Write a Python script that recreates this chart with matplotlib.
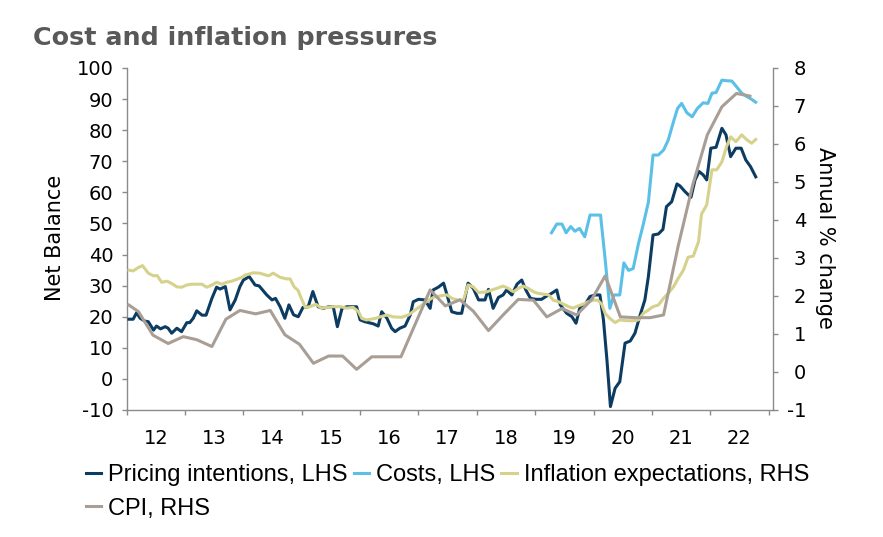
import matplotlib
matplotlib.use("Agg")
import matplotlib.pyplot as plt
from matplotlib.ticker import FixedLocator, NullFormatter, FixedFormatter

plt.rcParams["axes.unicode_minus"] = False

# Pricing intentions, LHS (net balance)
pricing_t = [2012.04, 2012.11, 2012.17, 2012.23, 2012.31, 2012.37, 2012.46, 2012.51, 2012.58, 2012.66,
             2012.71, 2012.77, 2012.86, 2012.94, 2013.03, 2013.08, 2013.14, 2013.20, 2013.29, 2013.36,
             2013.46, 2013.54, 2013.60, 2013.69, 2013.77, 2013.86, 2013.94, 2014.00, 2014.10, 2014.20,
             2014.27, 2014.40, 2014.49, 2014.55, 2014.63, 2014.71, 2014.78, 2014.86, 2014.94, 2015.02,
             2015.11, 2015.19, 2015.28, 2015.37, 2015.46, 2015.54, 2015.61, 2015.69, 2015.77, 2015.86,
             2015.94, 2016.00, 2016.08, 2016.23, 2016.31, 2016.37, 2016.46, 2016.54, 2016.60, 2016.68,
             2016.77, 2016.86, 2016.91, 2017.00, 2017.11, 2017.20, 2017.25, 2017.34, 2017.43, 2017.49,
             2017.57, 2017.66, 2017.74, 2017.85, 2017.94, 2018.03, 2018.14, 2018.20, 2018.28, 2018.37,
             2018.45, 2018.51, 2018.60, 2018.69, 2018.77, 2018.84, 2018.92, 2019.01, 2019.11, 2019.20,
             2019.28, 2019.37, 2019.43, 2019.54, 2019.63, 2019.70, 2019.77, 2019.85, 2019.94, 2020.03,
             2020.11, 2020.17, 2020.23, 2020.29, 2020.37, 2020.45, 2020.54, 2020.63, 2020.71, 2020.80,
             2020.88, 2020.94, 2021.02, 2021.11, 2021.19, 2021.25, 2021.34, 2021.43, 2021.48, 2021.57,
             2021.67, 2021.74, 2021.81, 2021.88, 2021.94, 2022.01, 2022.10, 2022.20, 2022.27, 2022.35,
             2022.44, 2022.53, 2022.61, 2022.69, 2022.78]
pricing = [19.2, 19.2, 21.3, 19.5, 18.6, 18.4, 15.7, 17.0, 16.1, 16.8,
           16.3, 14.7, 16.3, 15.2, 18.1, 18.1, 19.5, 21.9, 20.5, 20.5,
           25.9, 29.5, 28.9, 29.7, 22.2, 25.4, 29.7, 31.8, 32.9, 30.2,
           29.9, 27.0, 25.4, 25.9, 23.2, 19.5, 23.8, 20.6, 20.0, 23.0,
           23.2, 28.1, 23.2, 22.7, 23.2, 23.2, 16.8, 22.7, 23.2, 23.2,
           23.2, 19.0, 18.4, 17.7, 17.0, 21.6, 19.5, 16.3, 15.2, 16.3,
           17.0, 20.6, 24.8, 25.6, 25.4, 22.7, 28.6, 29.5, 30.8, 27.0,
           21.6, 21.1, 21.1, 30.8, 29.1, 25.4, 25.4, 28.8, 22.7, 26.2,
           27.0, 28.6, 27.0, 30.5, 31.8, 28.6, 25.9, 25.6, 25.6, 26.7,
           27.5, 28.6, 23.8, 21.1, 20.0, 17.9, 23.2, 23.8, 26.5, 27.0,
           27.0, 19.0, 6.1, -8.9, -3.0, -0.9, 11.5, 12.2, 14.7, 20.6,
           25.4, 32.9, 46.3, 46.6, 48.1, 55.4, 57.0, 62.7, 62.1, 60.2,
           58.4, 64.0, 66.7, 65.6, 64.0, 74.2, 74.5, 80.6, 78.5, 71.5,
           74.2, 74.2, 70.4, 68.3, 65.0]

# Costs, LHS (net balance)
costs_t = [2019.28, 2019.37, 2019.46, 2019.53, 2019.61, 2019.68, 2019.76, 2019.85, 2019.94, 2020.03,
           2020.12, 2020.20, 2020.28, 2020.35, 2020.45, 2020.52, 2020.60, 2020.68, 2020.77, 2020.85,
           2020.94, 2021.02, 2021.11, 2021.20, 2021.28, 2021.37, 2021.44, 2021.51, 2021.60, 2021.69,
           2021.78, 2021.88, 2021.96, 2022.03, 2022.10, 2022.20, 2022.28, 2022.37, 2022.45, 2022.54,
           2022.63, 2022.71, 2022.78]
costs = [47.0, 49.8, 49.8, 47.0, 49.0, 47.5, 48.4, 45.7, 52.7, 52.7,
         52.7, 38.3, 22.7, 27.0, 27.0, 37.3, 34.9, 35.5, 43.5, 49.5,
         56.8, 72.0, 72.0, 73.6, 76.8, 82.7, 87.0, 88.6, 85.6, 84.3,
         87.0, 88.8, 88.6, 91.9, 92.1, 96.1, 95.9, 95.8, 94.0, 91.9,
         90.8, 89.9, 89.0]

# Inflation expectations, RHS (annual % change)
infl_t = [2012.04, 2012.11, 2012.20, 2012.27, 2012.37, 2012.46, 2012.52, 2012.60, 2012.69, 2012.77,
          2012.86, 2012.94, 2013.03, 2013.11, 2013.20, 2013.29, 2013.37, 2013.46, 2013.54, 2013.63,
          2013.71, 2013.80, 2013.89, 2013.97, 2014.03, 2014.17, 2014.28, 2014.43, 2014.51, 2014.63,
          2014.74, 2014.80, 2014.87, 2014.94, 2014.98, 2015.06, 2015.14, 2015.24, 2015.34, 2015.43,
          2015.54, 2015.66, 2015.77, 2015.88, 2015.97, 2016.03, 2016.11, 2016.26, 2016.34, 2016.46,
          2016.57, 2016.71, 2016.83, 2016.94, 2017.06, 2017.17, 2017.28, 2017.40, 2017.49, 2017.57,
          2017.68, 2017.77, 2017.85, 2017.94, 2018.03, 2018.17, 2018.26, 2018.34, 2018.45, 2018.54,
          2018.63, 2018.71, 2018.80, 2018.88, 2018.97, 2019.05, 2019.14, 2019.23, 2019.31, 2019.40,
          2019.48, 2019.57, 2019.65, 2019.74, 2019.83, 2019.91, 2020.00, 2020.07, 2020.14, 2020.20,
          2020.28, 2020.37, 2020.45, 2020.57, 2020.68, 2020.77, 2020.85, 2020.94, 2021.02, 2021.11,
          2021.20, 2021.28, 2021.37, 2021.45, 2021.54, 2021.62, 2021.71, 2021.80, 2021.85, 2021.94,
          2022.03, 2022.11, 2022.20, 2022.28, 2022.35, 2022.44, 2022.54, 2022.62, 2022.71, 2022.78]
infl = [2.68, 2.66, 2.75, 2.80, 2.60, 2.53, 2.54, 2.36, 2.39, 2.33,
        2.24, 2.23, 2.29, 2.31, 2.31, 2.31, 2.23, 2.29, 2.36, 2.31,
        2.36, 2.39, 2.44, 2.49, 2.55, 2.61, 2.60, 2.53, 2.60, 2.49,
        2.45, 2.45, 2.24, 2.14, 1.98, 1.70, 1.72, 1.78, 1.68, 1.70,
        1.72, 1.72, 1.68, 1.70, 1.59, 1.41, 1.37, 1.41, 1.45, 1.50,
        1.45, 1.44, 1.50, 1.63, 1.76, 1.89, 1.98, 2.01, 2.03, 1.94,
        1.89, 1.89, 2.29, 2.24, 2.09, 2.11, 2.16, 2.20, 2.26, 2.20,
        2.11, 2.20, 2.26, 2.20, 2.11, 2.07, 2.05, 2.03, 1.89, 1.85,
        1.79, 1.72, 1.68, 1.74, 1.79, 1.85, 1.89, 1.89, 1.79, 1.54,
        1.41, 1.30, 1.37, 1.35, 1.35, 1.37, 1.54, 1.63, 1.72, 1.76,
        1.94, 2.07, 2.24, 2.46, 2.68, 3.02, 3.05, 3.43, 4.15, 4.40,
        5.32, 5.32, 5.53, 5.93, 6.19, 6.06, 6.24, 6.12, 6.02, 6.12]

# CPI, RHS (annual % change)
cpi_t = [2012.04, 2012.20, 2012.45, 2012.71, 2012.97, 2013.20, 2013.46, 2013.70, 2013.94, 2014.21,
         2014.46, 2014.71, 2014.96, 2015.20, 2015.46, 2015.70, 2015.94, 2016.20, 2016.45, 2016.70,
         2016.95, 2017.20, 2017.46, 2017.71, 2017.94, 2018.20, 2018.45, 2018.71, 2018.97, 2019.20,
         2019.46, 2019.71, 2019.97, 2020.20, 2020.46, 2020.71, 2020.97, 2021.20, 2021.45, 2021.70,
         2021.95, 2022.20, 2022.45, 2022.68]
cpi = [1.76, 1.59, 0.97, 0.75, 0.93, 0.85, 0.67, 1.39, 1.62, 1.53,
       1.62, 0.98, 0.73, 0.23, 0.42, 0.42, 0.07, 0.40, 0.40, 0.40,
       1.28, 2.16, 1.74, 1.90, 1.60, 1.09, 1.50, 1.91, 1.89, 1.45,
       1.67, 1.50, 1.91, 2.53, 1.45, 1.43, 1.43, 1.50, 3.31, 4.92,
       6.24, 6.98, 7.33, 7.26]

years = list(range(2012, 2024))
year_labels = ["12", "13", "14", "15", "16", "17", "18", "19", "20", "21", "22"]

NAVY = "#0c3c62"
LIGHT = "#5bc0e8"
KHAKI = "#d6d28c"
TAUPE = "#a89e96"
SPINE = "#8a8a8a"

fig = plt.figure(figsize=(8.83, 5.37), dpi=100)
ax = fig.add_axes([0.1435, 0.2365, 0.7322, 0.6369])
ax2 = ax.twinx()

lw = 2.2
l1, = ax.plot(pricing_t, pricing, color=NAVY, lw=lw, label="Pricing intentions, LHS", zorder=3)
l2, = ax.plot(costs_t, costs, color=LIGHT, lw=lw, label="Costs, LHS", zorder=3)
l3, = ax2.plot(infl_t, infl, color=KHAKI, lw=lw, label="Inflation expectations, RHS")
l4, = ax2.plot(cpi_t, cpi, color=TAUPE, lw=lw, label="CPI, RHS")

ax.set_xlim(2012, 2023.08)
ax.set_ylim(-10, 100)
ax2.set_ylim(-1, 8)
ax.set_yticks(range(-10, 101, 10))
ax2.set_yticks(range(-1, 9))

ax.xaxis.set_major_locator(FixedLocator(years))
ax.xaxis.set_major_formatter(NullFormatter())
ax.xaxis.set_minor_locator(FixedLocator([y + 0.5 for y in years[:-1]]))
ax.xaxis.set_minor_formatter(FixedFormatter(year_labels))

for a in (ax, ax2):
    a.spines["top"].set_visible(False)
    for s in ("left", "right", "bottom"):
        a.spines[s].set_color(SPINE)
        a.spines[s].set_linewidth(1.0)
ax.spines["right"].set_visible(False)
ax2.spines["left"].set_visible(False)
ax2.spines["bottom"].set_visible(False)

ax.tick_params(axis="y", direction="out", length=3.6, width=1, color=SPINE, labelsize=14, pad=6)
ax.tick_params(axis="x", which="major", direction="out", length=3.6, width=1, color=SPINE)
ax.tick_params(axis="x", which="minor", length=0, labelsize=14, pad=14)
ax2.tick_params(axis="y", direction="out", length=3.6, width=1, color=SPINE, labelsize=14, pad=20)

fig.text(33 / 883, 1 - 38 / 537, "Cost and inflation pressures", fontsize=18.3,
         fontweight="bold", color="#595959", ha="left", va="center")
fig.text(55 / 883, 1 - 238 / 537, "Net Balance", fontsize=15, rotation=90,
         ha="center", va="center")
fig.text(825 / 883, 1 - 238 / 537, "Annual % change", fontsize=15, rotation=270,
         ha="center", va="center")

# column-major fill: CPI goes under Pricing intentions on the second row
fig.legend(handles=[l1, l4, l2, l3], loc="upper left", bbox_to_anchor=(74 / 883, 1 - 452 / 537),
           ncol=3, frameon=False, borderpad=0, handlelength=0.65, handletextpad=0.3,
           columnspacing=0.25, labelspacing=0.5,
           prop={"family": ["Liberation Sans", "DejaVu Sans"], "size": 17})

# right-hand labels are right-aligned in the original
fig.canvas.draw()
for t in ax2.yaxis.get_majorticklabels():
    t.set_horizontalalignment("right")

fig.savefig("out.png", dpi=100)
